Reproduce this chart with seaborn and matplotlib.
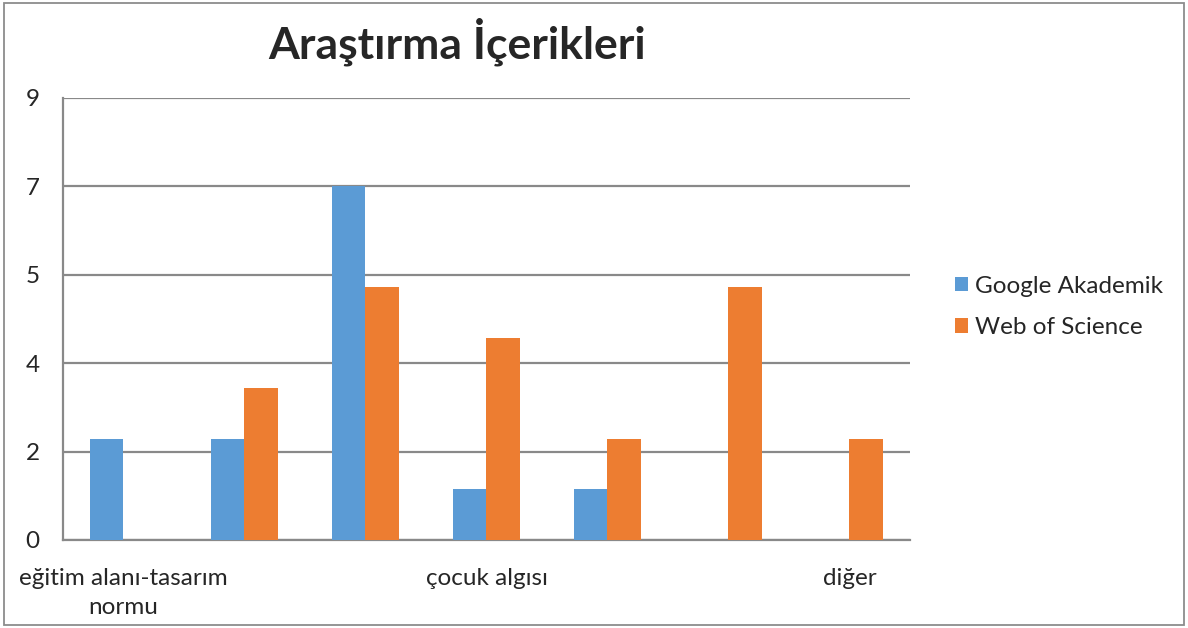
import pandas as pd
import seaborn as sns
import matplotlib.pyplot as plt
from matplotlib.patches import Rectangle

# categories (only every third label is shown in the original chart)
categories = ["eğitim alanı-tasarım\nnormu", "kategori 2", "kategori 3",
              "çocuk algısı", "kategori 5", "kategori 6", "diğer"]
series_names = ["Google Akademik", "Web of Science"]
google_values = [2, 2, 7, 1, 1, 0, 0]
wos_values = [0, 3, 5, 4, 2, 5, 2]

# axis ticks as shown (step 1.75, labels rounded)
y_ticks = [0, 1.75, 3.5, 5.25, 7, 8.75]
y_tick_labels = ["0", "2", "4", "5", "7", "9"]

colors = ["#5B9BD5", "#ED7D31"]

df = pd.DataFrame({
    "kategori": categories * 2,
    "seri": [series_names[0]] * len(categories) + [series_names[1]] * len(categories),
    "deger": google_values + wos_values,
})

sns.set_style("white")
plt.rcParams["font.family"] = ["Lato", "DejaVu Sans"]

fig = plt.figure(figsize=(11.88, 6.28), dpi=100)
ax = fig.add_axes([63 / 1188, 1 - 540 / 628, (910 - 63) / 1188, (540 - 98) / 628])

sns.barplot(data=df, x="kategori", y="deger", hue="seri", palette=colors,
            width=0.56, ax=ax, saturation=1, linewidth=0, zorder=3)

ax.set_ylim(0, 8.75)
ax.set_xlim(-0.5, len(categories) - 0.5)
ax.set_yticks(y_ticks)
ax.set_yticklabels(y_tick_labels, fontsize=17.5, ha="left")
ax.tick_params(axis="y", length=0, pad=27)
ax.set_xticks(range(len(categories)))
ax.set_xticklabels([c if i % 3 == 0 else "" for i, c in enumerate(categories)],
                   fontsize=17.5, linespacing=1.5)
ax.tick_params(axis="x", length=0, pad=20)
ax.set_xlabel("")
ax.set_ylabel("")

for y in y_ticks:
    ax.axhline(y, color="#898989", lw=1.6, zorder=1)

for side in ["top", "right"]:
    ax.spines[side].set_visible(False)
ax.spines["left"].set_color("#898989")
ax.spines["left"].set_linewidth(1.6)
ax.spines["bottom"].set_color("#898989")
ax.spines["bottom"].set_linewidth(1.6)

leg = ax.legend(loc="upper left", bbox_to_anchor=(945 / 1188, 1 - 266 / 628),
                bbox_transform=fig.transFigure, frameon=False, fontsize=17.5,
                handlelength=0.55, handleheight=0.55, handletextpad=0.3,
                labelspacing=0.85, borderaxespad=0)
for h in leg.legend_handles:
    h.set_edgecolor("none")

fig.text(457 / 1188, 1 - 42 / 628, "Araştırma İçerikleri", fontsize=32,
         fontweight="bold", ha="center", va="center")

fig.patches.append(Rectangle((4 / 1188, 3 / 628), 1180 / 1188, 622 / 628,
                             transform=fig.transFigure, fill=False,
                             edgecolor="#8c8c8c", lw=1.3))

fig.savefig("out.png", dpi=100)
